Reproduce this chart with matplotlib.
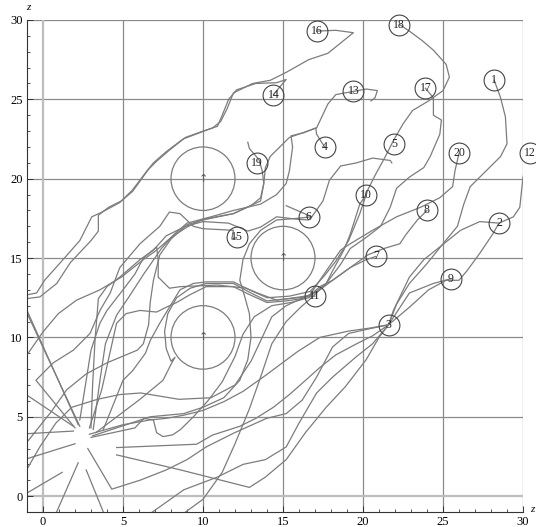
import matplotlib
matplotlib.use("Agg")
import matplotlib.pyplot as plt
from matplotlib.patches import Circle

# trajectories (x, y), one list per agent
path_1 = [(2.9, 3.9), (5.0, 4.5), (6.7, 4.8), (7.7, 4.9), (8.8, 5.1), (10.0, 5.4), (11.3, 5.95), (12.5, 6.6),
          (13.9, 7.6), (15.9, 9.1), (17.3, 10.0), (19.1, 10.4), (20.5, 10.6), (21.6, 10.8), (22.1, 12.1),
          (22.9, 13.4), (24.0, 14.65), (25.0, 15.9), (25.9, 17.0), (26.3, 18.4), (26.7, 19.5), (27.7, 20.5),
          (28.6, 21.4), (29.0, 22.2), (28.9, 23.9), (28.6, 25.1), (28.2, 26.2)]
path_2 = [(2.8, 3.0), (4.3, 0.44), (6.06, 1.0), (7.7, 1.65), (9.0, 2.3), (10.2, 3.1), (11.9, 3.96), (13.97, 4.9),
          (15.2, 5.2), (16.2, 6.05), (17.1, 7.5), (18.1, 9.4), (19.1, 10.25), (20.2, 10.5), (21.6, 10.8),
          (22.9, 11.9), (24.1, 13.0), (25.2, 13.6), (26.0, 13.6), (26.5, 14.2), (27.3, 15.3), (28.1, 16.5),
          (28.5, 17.2)]
path_3 = [(4.6, 2.6), (8.6, 1.65), (12.9, 0.55), (13.9, 1.2), (15.2, 2.3), (16.4, 4.0), (17.7, 5.6), (18.9, 6.9),
          (20.2, 8.6), (21.0, 10.0), (21.6, 10.8)]
path_4 = [(3.14, 4.2), (3.56, 7.3), (3.9, 9.6), (4.6, 11.4), (5.4, 12.6), (6.3, 14.0), (7.4, 15.6), (8.2, 16.5),
          (9.0, 17.2), (10.5, 17.6), (11.9, 18.0), (13.6, 18.4), (14.6, 19.0), (15.2, 19.7), (15.4, 20.5),
          (15.6, 22.0), (15.5, 22.7), (16.3, 22.9), (17.05, 23.2), (17.1, 22.8), (17.6, 22.0)]
path_5 = [(3.1, 3.8), (5.8, 4.7), (6.7, 5.0), (8.8, 5.2), (10.0, 5.6), (11.3, 6.2), (12.3, 7.3), (12.8, 8.6),
          (13.0, 10.0), (12.9, 11.5), (12.6, 12.6), (12.3, 13.6), (12.5, 14.9), (12.9, 15.9), (13.6, 16.75),
          (14.6, 17.4), (15.85, 17.5), (16.8, 17.6), (17.5, 18.6), (17.9, 19.9), (18.6, 20.8), (19.6, 21.0),
          (20.6, 21.3), (21.7, 21.15), (21.8, 21.0)]
path_6 = [(3.0, 4.3), (3.1, 7.0), (3.25, 9.8), (3.46, 12.45), (4.0, 13.2), (4.8, 13.8), (6.06, 14.9), (6.9, 15.5),
          (7.7, 16.4), (8.9, 17.0), (10.0, 17.3), (11.6, 17.2), (12.8, 16.7), (13.6, 16.95), (14.6, 17.6),
          (15.85, 17.45), (16.6, 17.4), (16.8, 17.6), (15.2, 18.3)]
path_7 = [(2.9, 4.3), (3.67, 6.7), (4.4, 10.0), (4.6, 10.9), (5.2, 11.5), (6.06, 11.7), (7.1, 11.6), (7.7, 11.9),
          (8.35, 12.2), (9.2, 12.7), (10.2, 13.2), (11.9, 13.2), (12.9, 12.7), (14.0, 12.2), (15.2, 12.3),
          (16.2, 12.45), (17.3, 13.0), (18.1, 13.6), (19.2, 14.4), (20.2, 14.9), (20.8, 15.1)]
path_8 = [(2.3, 4.8), (2.7, 7.3), (3.0, 9.2), (3.56, 10.9), (4.0, 11.7), (5.0, 13.0), (5.75, 14.0), (6.27, 15.0),
          (7.1, 15.7), (7.2, 14.9), (7.2, 13.8), (7.9, 13.1), (8.6, 13.2), (10.9, 13.3), (12.7, 13.1),
          (13.4, 12.8), (14.6, 12.35), (15.4, 12.45), (16.7, 12.65), (17.3, 13.2), (18.1, 13.6), (19.2, 14.4),
          (20.3, 15.2), (21.3, 15.6), (22.3, 15.9), (22.7, 16.5), (23.4, 17.4), (24.0, 18.0)]
path_9 = [(2.2, 2.1), (0.85, -1.0), (0.5, -1.8), (6.0, -1.6), (8.8, 0.4), (10.9, 1.2), (12.5, 2.0), (13.9, 2.3),
          (15.2, 3.1), (16.0, 4.6), (17.1, 6.5), (18.1, 7.5), (19.6, 8.8), (20.6, 9.6), (21.6, 10.8), (22.9, 12.8),
          (24.4, 13.4), (25.5, 13.7)]
path_10 = [(2.7, 1.65), (3.77, -1.0), (4.0, -1.6), (8.5, -1.3), (10.0, -0.2), (11.2, 1.5), (12.0, 3.3),
           (12.9, 5.5), (13.6, 7.5), (14.3, 9.6), (15.2, 11.0), (16.1, 11.9), (16.9, 12.6), (17.7, 13.4),
           (18.1, 14.2), (18.8, 15.5), (19.2, 16.5), (19.8, 18.4), (20.2, 19.0)]
path_11 = [(3.3, 4.0), (6.06, 6.1), (7.5, 7.3), (8.0, 8.3), (8.25, 8.75), (8.0, 8.5), (7.7, 9.3), (7.6, 10.4),
           (7.8, 11.5), (8.35, 12.5), (9.2, 13.1), (10.2, 13.4), (11.9, 13.4), (12.9, 12.85), (14.0, 12.3),
           (15.4, 12.45), (17.0, 12.6)]
path_12 = [(4.6, 3.06), (9.6, 3.27), (10.6, 3.85), (12.3, 4.4), (13.3, 4.9), (14.4, 5.6), (15.4, 6.4), (16.3, 7.2),
           (17.3, 8.1), (18.3, 8.9), (19.6, 9.6), (20.6, 10.1), (21.6, 10.8), (21.9, 11.7), (22.9, 13.8),
           (23.8, 14.9), (24.8, 15.7), (26.1, 16.75), (27.3, 17.3), (28.5, 17.2), (29.4, 17.6), (29.8, 18.2),
           (30.0, 20.1), (30.45, 21.6)]
path_13 = [(1.9, 4.1), (-1.6, 3.9), (-1.0, 3.4), (0.5, 5.3), (1.48, 6.7), (2.7, 7.7), (4.0, 8.4), (5.9, 9.2),
           (6.27, 9.6), (6.6, 10.8), (6.7, 12.2), (6.9, 13.6), (7.3, 15.2), (8.0, 16.2), (9.0, 17.1),
           (10.0, 17.4), (11.9, 17.8), (13.6, 18.6), (13.8, 19.7), (13.9, 20.7), (14.2, 21.4), (15.4, 22.6),
           (17.1, 23.2), (17.8, 24.7), (18.3, 25.3), (19.4, 25.5), (20.2, 25.65), (20.9, 25.55), (20.75, 25.1),
           (20.5, 24.9)]
path_14 = [(2.3, 4.4), (-1.4, 12.4), (-0.2, 12.55), (0.86, 13.4), (1.7, 14.7), (3.0, 16.1), (3.46, 16.7),
           (3.46, 17.7), (4.1, 18.2), (4.9, 18.6), (5.6, 19.2), (6.1, 19.9), (6.6, 20.6), (7.1, 21.1), (7.9, 21.8),
           (8.9, 22.6), (10.0, 23.0), (10.9, 23.3), (11.2, 24.0), (11.6, 25.0), (12.1, 25.6), (13.3, 26.0),
           (14.6, 26.05), (15.2, 26.25), (14.9, 25.9), (14.4, 25.3)]
path_15 = [(2.0, 4.3), (-0.44, 7.3), (0.64, 8.4), (1.9, 9.2), (2.94, 10.25), (3.56, 11.7), (4.2, 12.8),
           (4.8, 14.4), (6.06, 15.9), (7.3, 17.0), (7.9, 17.9), (8.56, 17.8), (9.4, 17.0), (10.0, 16.85),
           (11.9, 16.75), (11.8, 16.2), (12.1, 16.3)]
path_16 = [(2.2, 4.5), (-1.4, 12.6), (-0.4, 12.8), (0.1, 13.6), (1.25, 14.9), (2.3, 16.1), (2.7, 16.9),
           (3.05, 17.6), (3.7, 17.9), (4.8, 18.5), (5.6, 19.3), (6.5, 20.5), (6.9, 21.0), (7.7, 21.7), (8.75, 22.5),
           (9.8, 22.9), (10.6, 23.2), (11.1, 23.6), (11.5, 24.4), (11.9, 25.4), (13.1, 26.0), (14.2, 26.2),
           (15.2, 26.7), (16.6, 27.5), (17.8, 27.9), (19.4, 29.2), (18.3, 29.35), (17.1, 29.3)]
path_17 = [(3.0, 3.7), (5.75, 4.3), (6.3, 4.9), (6.9, 4.8), (7.1, 4.0), (7.5, 3.75), (8.1, 3.86), (8.6, 4.2),
           (9.4, 5.0), (10.3, 6.0), (11.2, 7.2), (12.0, 8.8), (12.5, 10.2), (13.2, 11.3), (14.3, 12.0),
           (15.5, 12.2), (16.6, 12.5), (17.7, 13.4), (18.6, 14.6), (19.2, 15.6), (20.2, 16.3), (21.1, 17.0),
           (21.7, 18.2), (22.1, 19.4), (22.9, 20.1), (23.8, 20.7), (24.2, 21.4), (24.8, 22.8), (24.9, 23.7),
           (24.4, 24.0), (24.4, 25.1), (23.9, 25.7)]
path_18 = [(3.77, 4.2), (5.0, 7.3), (5.6, 7.9), (6.4, 9.0), (6.7, 9.8), (7.3, 10.9), (7.9, 11.9), (8.56, 13.0),
           (9.4, 13.4), (10.2, 13.5), (11.9, 13.5), (12.9, 13.0), (14.0, 12.5), (15.4, 12.6), (16.7, 12.9),
           (17.6, 13.9), (18.3, 14.8), (19.1, 16.1), (19.8, 17.8), (20.3, 19.3), (20.8, 20.3), (21.4, 21.4),
           (21.9, 22.4), (22.5, 23.45), (23.1, 24.3), (24.1, 24.9), (25.0, 25.55), (25.4, 26.4), (25.2, 27.2),
           (24.4, 28.1), (23.7, 28.7), (22.9, 29.3), (22.3, 29.7)]
path_19 = [(1.9, 4.4), (-1.8, 6.9), (-1.0, 8.9), (0.0, 10.35), (0.96, 11.5), (2.1, 12.35), (3.56, 13.0),
           (4.9, 13.8), (6.27, 14.9), (7.1, 15.5), (8.0, 16.3), (9.0, 16.95), (10.0, 17.45), (11.9, 17.8),
           (13.0, 18.3), (13.6, 18.8), (13.8, 19.7), (13.7, 20.5), (13.5, 21.2), (12.9, 21.9), (12.8, 22.3)]
path_20 = [(2.0, 3.3), (-1.5, 2.2), (-1.0, 1.7), (-0.2, 3.1), (0.8, 4.6), (1.8, 5.6), (3.4, 6.1), (4.8, 6.4),
           (6.1, 6.5), (7.3, 6.3), (8.5, 6.1), (10.5, 6.2), (12.0, 7.0), (13.0, 8.5), (13.7, 10.0), (14.3, 11.3),
           (15.2, 12.0), (16.7, 12.7), (17.3, 13.6), (18.6, 15.5), (19.2, 15.9), (20.6, 16.75), (22.1, 17.6),
           (23.6, 18.2), (24.8, 18.8), (25.6, 19.5), (25.75, 20.5), (26.0, 21.6)]
path_extra = [(1.2, 1.5), (-1.5, -0.1)]

paths = [path_1, path_2, path_3, path_4, path_5, path_6, path_7, path_8, path_9, path_10,
         path_11, path_12, path_13, path_14, path_15, path_16, path_17, path_18, path_19, path_20,
         path_extra]

# goal labels
goal_ids = list(range(1, 21))
goal_x = [28.2, 28.5, 21.6, 17.6, 21.95, 16.6, 20.8, 24.0, 25.5, 20.2,
          17.0, 30.45, 19.4, 14.4, 12.1, 17.1, 23.9, 22.25, 13.35, 26.0]
goal_y = [26.2, 17.2, 10.8, 22.0, 22.2, 17.6, 15.1, 18.0, 13.7, 19.0,
          12.6, 21.6, 25.5, 25.3, 16.3, 29.3, 25.7, 29.7, 21.0, 21.6]

# obstacles
obs_x = [10, 15, 10]
obs_y = [20, 15, 10]
obs_r = [2, 2, 2]

fig = plt.figure(figsize=(5.36, 5.27), dpi=100)
ax = fig.add_axes([27 / 536, 15 / 527, 496 / 536, 492 / 527])
ax.set_xlim(-1, 30)
ax.set_ylim(-1, 30)

for v in range(5, 31, 5):
    ax.axvline(v, color='#8a8a8a', lw=0.9, zorder=0)
    ax.axhline(v, color='#8a8a8a', lw=0.9, zorder=0)
ax.axvline(0, color='#bdbdbd', lw=1.6, zorder=0)
ax.axhline(0, color='#bdbdbd', lw=1.6, zorder=0)

for p in paths:
    xs = [q[0] for q in p]
    ys = [q[1] for q in p]
    ax.plot(xs, ys, color='#7c7c7c', lw=0.9)

for cx, cy, r in zip(obs_x, obs_y, obs_r):
    ax.add_patch(Circle((cx, cy), r, fill=False, ec='#7c7c7c', lw=0.9))
    ax.text(cx, cy, '\u2191', ha='center', va='center', fontsize=8, color='#555555',
            family='DejaVu Sans')

ax.plot(goal_x, goal_y, 'o', ms=15, mfc='none', mec='#444444', mew=0.8, clip_on=False)
for gid, gx, gy in zip(goal_ids, goal_x, goal_y):
    ax.text(gx, gy, str(gid), ha='center', va='center', fontsize=8.5,
            family='Liberation Serif', color='#222222', clip_on=False)

for s in ['top', 'right']:
    ax.spines[s].set_visible(False)
for s in ['left', 'bottom']:
    ax.spines[s].set_color('#333333')
    ax.spines[s].set_linewidth(0.8)

ax.set_xticks(range(0, 31, 5))
ax.set_yticks(range(0, 31, 5))
ax.set_xticks(range(0, 31), minor=True)
ax.set_yticks(range(0, 31), minor=True)
ax.tick_params(which='major', direction='in', length=4, width=0.7, color='#333333',
               labelsize=9, pad=3)
ax.tick_params(which='minor', direction='in', length=2, width=0.6, color='#333333')
for lab in ax.get_xticklabels() + ax.get_yticklabels():
    lab.set_family('Liberation Serif')

fig.text(28 / 536, 1 - 8 / 527, 'z', fontsize=8, style='italic', family='Liberation Serif',
         ha='center', va='center')
fig.text(530 / 536, 1 - 509 / 527, 'z', fontsize=8, style='italic', family='Liberation Serif',
         ha='left', va='center')

fig.savefig('out.png', dpi=100)
